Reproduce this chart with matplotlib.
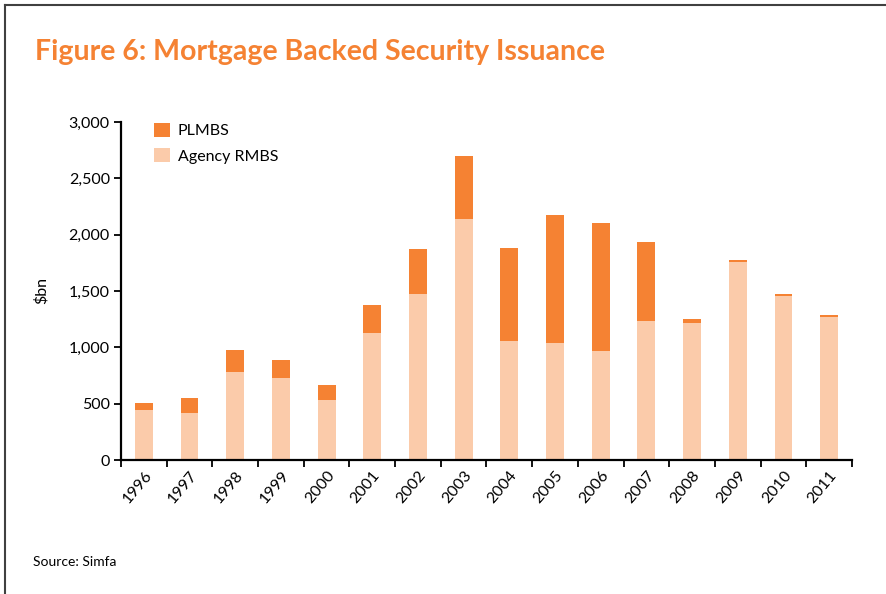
import numpy as np
import matplotlib.pyplot as plt
from matplotlib.lines import Line2D

plt.rcParams['font.family'] = ['Lato', 'DejaVu Sans']

# issuance, $bn
years = ['1996', '1997', '1998', '1999', '2000', '2001', '2002', '2003',
         '2004', '2005', '2006', '2007', '2008', '2009', '2010', '2011']
agency = [440, 420, 785, 730, 530, 1130, 1470, 2140,
          1055, 1035, 965, 1235, 1215, 1760, 1455, 1270]
plmbs = [70, 130, 195, 160, 140, 250, 400, 560,
         830, 1140, 1140, 700, 35, 17, 18, 14]

c_agency = '#FBCBAA'
c_plmbs = '#F58233'

fig = plt.figure(figsize=(8.87, 5.94), dpi=100)
ax = fig.add_axes([121/887, 1 - 460/594, (852-121)/887, (460-122)/594])

x = np.arange(len(years))
ax.bar(x, agency, width=0.39, color=c_agency, label='Agency RMBS')
ax.bar(x, plmbs, width=0.39, bottom=agency, color=c_plmbs, label='PLMBS')

ax.set_xlim(-0.5, len(years) - 0.5)
ax.set_ylim(0, 3000)
ax.set_yticks(np.arange(0, 3001, 500))
ax.set_yticklabels([f'{v:,}' for v in range(0, 3001, 500)], fontsize=11.5)
ax.set_ylabel('$bn', fontsize=11.5, labelpad=14)

ax.set_xticks(x)
ax.set_xticklabels(years, rotation=50, ha='right', va='top',
                   rotation_mode='anchor', fontsize=11.5)
ax.set_xticks(np.arange(-0.5, len(years)), minor=True)
ax.tick_params(axis='x', which='major', length=0, pad=6)
ax.tick_params(axis='x', which='minor', length=5, width=1.3, direction='out')
ax.tick_params(axis='y', length=5, width=1.3, direction='out', pad=3)

for s in ['top', 'right']:
    ax.spines[s].set_visible(False)
for s in ['left', 'bottom']:
    ax.spines[s].set_linewidth(1.6)

handles, labels = ax.get_legend_handles_labels()
ax.legend(handles[::-1], labels[::-1], loc='upper left',
          bbox_to_anchor=(0.025, 1.04), frameon=False, fontsize=11.5,
          handlelength=1.0, handleheight=1.0, handletextpad=0.5,
          labelspacing=0.6)

fig.text(35/887, 1 - 52/594, 'Figure 6: Mortgage Backed Security Issuance',
         color='#F58233', fontsize=20.5, fontweight='bold', va='center')
fig.text(33/887, 1 - 562/594, 'Source: Simfa', fontsize=10, va='center')

# page frame on the left and top
fig.add_artist(Line2D([5/887, 5/887], [0, 1 - 5/594], color='#404040', lw=1.5))
fig.add_artist(Line2D([5/887, 1], [1 - 5/594, 1 - 5/594], color='#404040', lw=1.5))

fig.savefig('out.png', dpi=100)
